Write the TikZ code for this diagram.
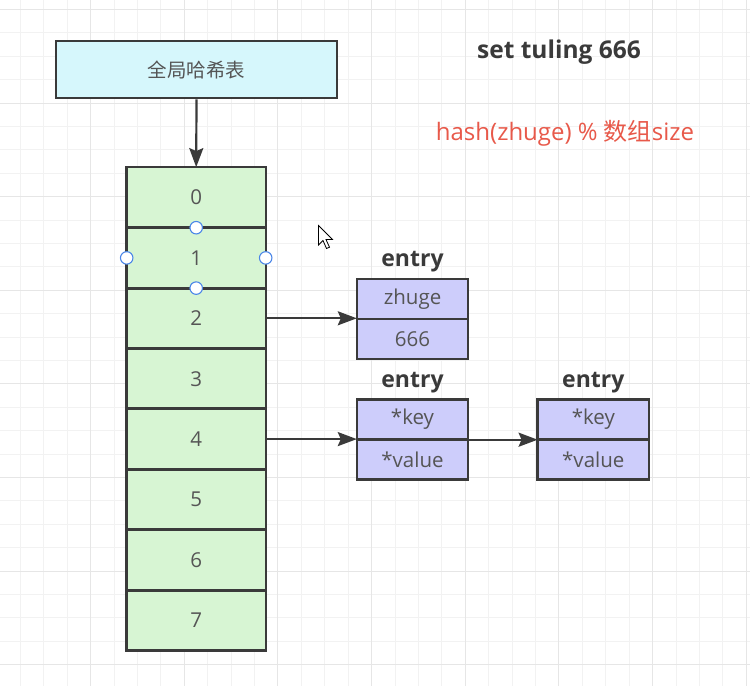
\documentclass[tikz,border=0pt]{standalone}
\usepackage{fontspec}
\setmainfont{Open Sans}
\newfontfamily\cjk{Noto Sans CJK SC}
\usetikzlibrary{arrows.meta}
\definecolor{gridminor}{HTML}{F2F2F2}
\definecolor{gridmajor}{HTML}{E6E6E6}
\definecolor{hdrfill}{HTML}{D6F7FC}
\definecolor{cellfill}{HTML}{D7F5D3}
\definecolor{entfill}{HTML}{CDCDFB}
\definecolor{edge}{HTML}{3A3A3A}
\definecolor{txt}{HTML}{555555}
\definecolor{redtxt}{HTML}{E8594A}
\definecolor{handle}{HTML}{4A86E8}
\tikzset{
  box/.style={inner sep=0pt, text=txt, font=\fontsize{20.5}{24}\selectfont},
  hdr/.style={box, draw=edge, line width=2.5pt, fill=hdrfill, minimum width=281pt, minimum height=57pt},
  cell/.style={box, fill=cellfill, minimum width=139pt, minimum height=60.4pt},
  ent/.style={box, fill=entfill, minimum width=111pt, minimum height=40pt},
  border/.style={draw=edge, line width=2.5pt},
  lbl/.style={text=edge, font=\fontsize{23}{26}\selectfont\bfseries, inner sep=0pt},
  conn/.style={draw=edge, line width=2.2pt, -{Stealth[length=19pt,width=14pt,inset=3pt]}},
  hnd/.style={circle, draw=handle, fill=white, line width=1.1pt, minimum size=12.5pt, inner sep=0pt},
}
\begin{document}
\begin{tikzpicture}[x=1pt,y=-1pt]
\useasboundingbox (0,0) rectangle (750,686);
\fill[white] (0,0) rectangle (750,686);
% grid
\foreach \i in {0,...,32} {
  \draw[gridminor, line width=0.8pt] ({-3.2+23.42*\i},0) -- ({-3.2+23.42*\i},686);
}
\foreach \i in {0,...,30} {
  \draw[gridminor, line width=0.8pt] (0,{9.4+23.4*\i}) -- (750,{9.4+23.4*\i});
}
\foreach \i in {0,...,8} {
  \draw[gridmajor, line width=1pt] ({-3.2+93.68*\i},0) -- ({-3.2+93.68*\i},686);
  \draw[gridmajor, line width=1pt] (0,{9.4+93.6*\i}) -- (750,{9.4+93.6*\i});
}
% header
\node[hdr, font=\fontsize{19.5}{22}\selectfont\cjk] (hdr) at (196.5,69.6) {全局哈希表};
% array cells
\foreach \i in {0,...,7} {
  \node[cell] (c\i) at (196.2,{167.3+60.4*(\i+0.5)}) {\i};
}
\foreach \i in {0,...,7} {
  \draw[border] (c\i.north west) rectangle (c\i.south east);
}
\draw[conn] (hdr.south) -- (c0.north);
% entries
\node[ent] (e1k) at (412.5,299) {zhuge};
\node[ent] (e1v) at (412.5,339) {666};
\node[ent] (e2k) at (412.5,419.5) {*key};
\node[ent] (e2v) at (412.5,459.5) {*value};
\node[ent] (e3k) at (593.3,419.5) {*key};
\node[ent] (e3v) at (593.3,459.5) {*value};
\foreach \n in {e1k,e1v,e2k,e2v,e3k,e3v} {
  \draw[border] (\n.north west) rectangle (\n.south east);
}
\node[lbl, anchor=base] (l1) at (412.5,266) {entry};
\node[lbl, anchor=base] (l2) at (412.5,387) {entry};
\node[lbl, anchor=base] (l3) at (593.3,387) {entry};
\draw[conn] (c2.east) -- (c2.east -| e1k.west);
\draw[conn] (c4.east) -- (c4.east -| e2k.west);
\draw[conn] (e2k.south east) -- (e3k.south west);
% texts
\node[text=edge, font=\fontsize{24.5}{28}\selectfont\bfseries, inner sep=0pt] (title) at (559,52) {set tuling 666};
\node[text=redtxt, font=\fontsize{24}{28}\selectfont, inner sep=0pt] (formula) at (565,133) {hash(zhuge) \% {\cjk 数组}size};
% selection handles
\node[hnd] (h1) at (196.2,227.7) {};
\node[hnd] (h2) at (196.2,288.1) {};
\node[hnd] (h3) at (126.7,257.9) {};
\node[hnd] (h4) at (265.7,257.9) {};
% mouse cursor
\draw[black, fill=white, line width=0.8pt, line join=miter] (318.5,225.5) -- (318.5,245) -- (323,240.5) -- (326.5,248.5) -- (329.5,247.2) -- (326,239.5) -- (332.5,239.5) -- cycle;
\end{tikzpicture}
\end{document}
